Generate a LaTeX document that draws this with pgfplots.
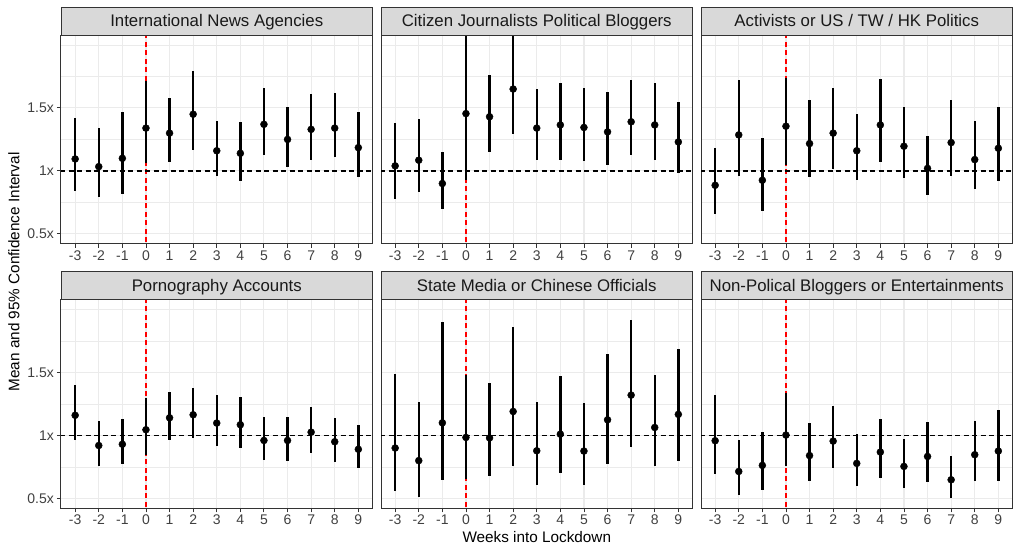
\documentclass[border=0pt]{standalone}
\usepackage{fontspec}
\setmainfont{Liberation Sans}
\usepackage{pgfplots}
\usepackage{pgfplotstable}
\pgfplotsset{compat=1.18}
\usetikzlibrary{calc}

\definecolor{frame}{HTML}{333333}
\definecolor{stripbg}{HTML}{D9D9D9}
\definecolor{gridc}{HTML}{EBEBEB}
\definecolor{ticktext}{HTML}{404040}

% week, mean, lower, upper
\pgfplotstableread{
w m lo hi
-3 1.095 0.84 1.42
-2 1.034 0.79 1.34
-1 1.10 0.82 1.47
0 1.34 1.06 1.71
1 1.30 1.07 1.58
2 1.45 1.17 1.79
3 1.16 0.96 1.40
4 1.14 0.92 1.39
5 1.37 1.13 1.66
6 1.25 1.03 1.51
7 1.33 1.09 1.61
8 1.34 1.11 1.62
9 1.185 0.955 1.47
}\tabA
\pgfplotstableread{
w m lo hi
-3 1.04 0.78 1.38
-2 1.085 0.83 1.41
-1 0.90 0.70 1.15
0 1.455 0.93 2.30
1 1.43 1.15 1.76
2 1.65 1.29 2.20
3 1.34 1.085 1.65
4 1.365 1.09 1.70
5 1.345 1.08 1.66
6 1.31 1.05 1.63
7 1.39 1.125 1.725
8 1.365 1.09 1.70
9 1.23 0.98 1.55
}\tabB
\pgfplotstableread{
w m lo hi
-3 0.886 0.66 1.18
-2 1.286 0.96 1.72
-1 0.926 0.68 1.265
0 1.355 1.05 1.74
1 1.217 0.95 1.56
2 1.30 1.016 1.66
3 1.16 0.93 1.45
4 1.365 1.07 1.73
5 1.196 0.947 1.51
6 1.02 0.81 1.28
7 1.225 0.96 1.56
8 1.09 0.855 1.40
9 1.18 0.92 1.51
}\tabC
\pgfplotstableread{
w m lo hi
-3 1.16 0.963 1.40
-2 0.92 0.76 1.116
-1 0.93 0.77 1.127
0 1.045 0.844 1.294
1 1.14 0.963 1.344
2 1.164 0.98 1.38
3 1.098 0.913 1.317
4 1.085 0.90 1.307
5 0.96 0.804 1.143
6 0.96 0.794 1.15
7 1.026 0.857 1.225
8 0.95 0.79 1.14
9 0.89 0.74 1.08
}\tabD
\pgfplotstableread{
w m lo hi
-3 0.90 0.56 1.484
-2 0.80 0.51 1.265
-1 1.10 0.648 1.90
0 0.984 0.653 1.48
1 0.98 0.677 1.418
2 1.19 0.757 1.86
3 0.878 0.606 1.267
4 1.01 0.70 1.468
5 0.876 0.606 1.26
6 1.124 0.772 1.645
7 1.32 0.907 1.92
8 1.063 0.757 1.48
9 1.167 0.80 1.685
}\tabE
\pgfplotstableread{
w m lo hi
-3 0.958 0.696 1.317
-2 0.714 0.53 0.96
-1 0.762 0.563 1.03
0 1.003 0.754 1.34
1 0.84 0.635 1.10
2 0.955 0.738 1.233
3 0.778 0.598 1.008
4 0.868 0.661 1.127
5 0.754 0.58 0.974
6 0.833 0.632 1.103
7 0.648 0.50 0.836
8 0.847 0.638 1.114
9 0.876 0.635 1.198
}\tabF

\pgfplotsset{
  facet/.style={
    scale only axis, width=311.5pt, height=208.5pt, anchor=south west,
    xmin=-3.6, xmax=9.6, ymin=0.42, ymax=2.075,
    axis line style={frame, line width=1pt},
    xtick={-3,...,9},
    xticklabels={-3,-2,-1,0,1,2,3,4,5,6,7,8,9},
    ytick={0.5,1,1.5},
    minor ytick={0.75,1.25,1.75,2},
    xtick pos=bottom, ytick pos=left,
    tick align=outside, major tick length=4pt, minor tick length=0pt,
    tick style={frame, line width=0.9pt},
    grid=both,
    major grid style={gridc, line width=1.1pt},
    minor grid style={gridc, line width=0.6pt},
    ticklabel style={font=\fontsize{14}{16}\selectfont, text=ticktext},
    xticklabel style={inner sep=2.5pt},
    yticklabel style={inner sep=3pt},
  },
  ylab/.style={yticklabels={0.5x,1x,1.5x}},
  noylab/.style={yticklabels={}, ytick style={draw=none}},
}

\newcommand{\facetplot}[1]{%
  \addplot[red, line width=1.3pt, dash pattern=on 5pt off 3.5pt] coordinates {(0,0.3) (0,2.2)};
  \addplot[black, line width=1.3pt, dash pattern=on 5pt off 3.5pt] coordinates {(-4,1) (10,1)};
  \addplot[black, only marks, mark=*, mark size=3.5pt,
    error bars/.cd, y dir=both, y explicit, error mark=none,
    error bar style={line width=2.4pt}]
    table[x=w, y=m, y error plus expr=\thisrow{hi}-\thisrow{m},
          y error minus expr=\thisrow{m}-\thisrow{lo}] {#1};
}

\newcommand{\strip}[2]{%
  \draw[frame, line width=1pt, fill=stripbg] (#1.north west) rectangle ([yshift=28pt]#1.north east);
  \node[anchor=base, text=black!90, font=\fontsize{16.8}{18}\selectfont]
    at ([yshift=8.8pt]$(#1.north west)!0.5!(#1.north east)$) {#2};
}

\begin{document}
\begin{tikzpicture}
\useasboundingbox (0,0) rectangle (1013pt,546pt);

\begin{axis}[facet, ylab, name=pA, at={(61pt,302pt)}]
\facetplot{\tabA}
\end{axis}
\begin{axis}[facet, noylab, name=pB, at={(381pt,302pt)}]
\facetplot{\tabB}
\end{axis}
\begin{axis}[facet, noylab, name=pC, at={(701pt,302pt)}]
\facetplot{\tabC}
\end{axis}
\begin{axis}[facet, ylab, name=pD, at={(61pt,37.5pt)}]
\facetplot{\tabD}
\end{axis}
\begin{axis}[facet, noylab, name=pE, at={(381pt,37.5pt)}]
\facetplot{\tabE}
\end{axis}
\begin{axis}[facet, noylab, name=pF, at={(701pt,37.5pt)}]
\facetplot{\tabF}
\end{axis}

\strip{pA}{International News Agencies}
\strip{pB}{Citizen Journalists Political Bloggers}
\strip{pC}{Activists or US / TW / HK Politics}
\strip{pD}{Pornography Accounts}
\strip{pE}{State Media or Chinese Officials}
\strip{pF}{Non-Polical Bloggers or Entertainments}

\node[rotate=90, font=\fontsize{15.3}{17}\selectfont] at (14pt,274pt) {Mean and 95\% Confidence Interval};
\node[anchor=base, font=\fontsize{15.3}{17}\selectfont] at (536.8pt,3.5pt) {Weeks into Lockdown};
\end{tikzpicture}
\end{document}
